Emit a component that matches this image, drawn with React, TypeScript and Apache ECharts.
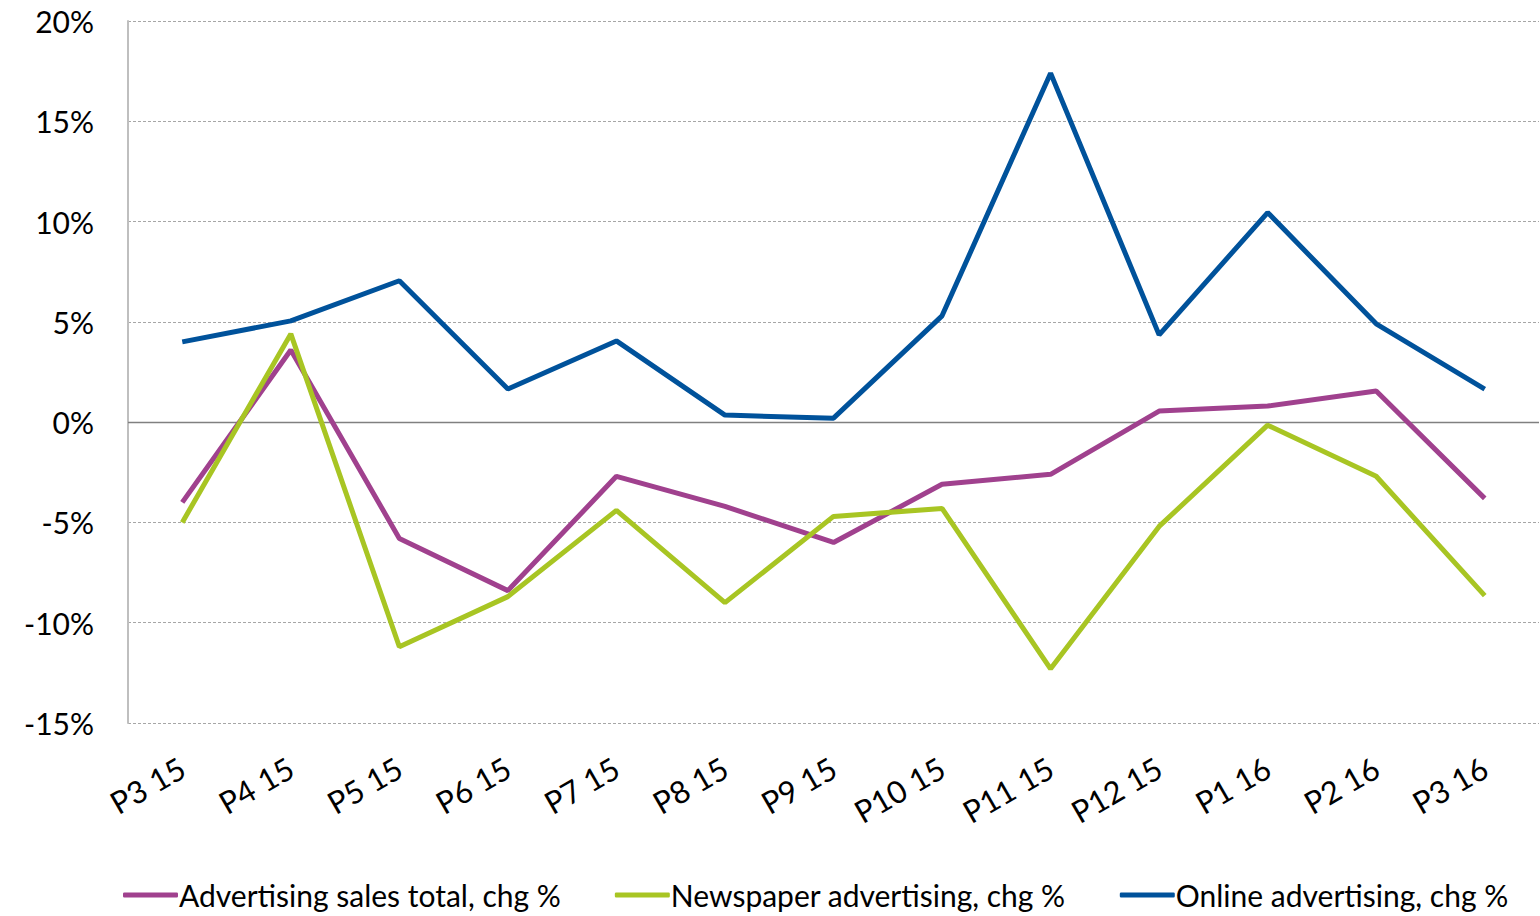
import React, { useEffect, useRef } from "react";
import * as echarts from "echarts";

const categories = ["P3 15", "P4 15", "P5 15", "P6 15", "P7 15", "P8 15", "P9 15", "P10 15", "P11 15", "P12 15", "P1 16", "P2 16", "P3 16"];
const totalSales = [-4.0, 3.6, -5.8, -8.4, -2.7, -4.2, -6.0, -3.1, -2.6, 0.55, 0.8, 1.55, -3.8];
const newspaper = [-5.0, 4.4, -11.2, -8.7, -4.4, -9.0, -4.7, -4.3, -12.3, -5.2, -0.15, -2.7, -8.65];
const online = [4.0, 5.05, 7.05, 1.65, 4.05, 0.35, 0.2, 5.3, 17.4, 4.35, 10.45, 4.9, 1.65];
const seriesNames = ["Advertising sales total, chg %", "Newspaper advertising, chg %", "Online advertising, chg %"];
const colors = ["#A0418E", "#A8C523", "#00529B"];

const FONT = "Lato, sans-serif";

export default function App() {
  const ref = useRef<HTMLDivElement>(null);
  useEffect(() => {
    const chart = echarts.init(ref.current!, null, { renderer: "svg" });
    const mk = (name: string, data: number[], color: string, withZero: boolean) => ({
      name,
      type: "line",
      data,
      symbol: "none",
      lineStyle: { color, width: 5 },
      itemStyle: { color },
      z: 3,
      ...(withZero
        ? {
            markLine: {
              silent: true,
              symbol: "none",
              label: { show: false },
              lineStyle: { color: "#808080", type: "solid", width: 1.3 },
              data: [{ yAxis: 0 }],
              z: 1,
            },
          }
        : {}),
    });
    chart.setOption({
      animation: false,
      color: colors,
      grid: { left: 128, right: 1, top: 21, height: 702 },
      xAxis: {
        type: "category",
        data: categories,
        boundaryGap: true,
        axisLine: { show: false, onZero: false },
        axisTick: { show: false },
        axisLabel: {
          rotate: 30,
          margin: 42,
          fontSize: 31,
          color: "#000",
          fontFamily: FONT,
          interval: 0,
        },
      },
      yAxis: {
        type: "value",
        min: -15,
        max: 20,
        interval: 5,
        axisLine: { show: true, lineStyle: { color: "#BFBFBF", width: 2 } },
        axisTick: { show: false },
        axisLabel: {
          formatter: (v: number) => `${v}%`,
          fontSize: 30,
          color: "#000",
          fontFamily: FONT,
          margin: 34,
        },
        splitLine: { lineStyle: { color: "#A6A6A6", type: [3, 2], width: 1 } },
      },
      legend: {
        bottom: 1,
        left: 118,
        icon: "roundRect",
        itemWidth: 55,
        itemHeight: 5,
        itemGap: 54,
        textStyle: { fontSize: 30, color: "#000", fontFamily: FONT, padding: [0, 0, 0, -4] },
        data: seriesNames,
      },
      series: [
        mk(seriesNames[0], totalSales, colors[0], true),
        mk(seriesNames[1], newspaper, colors[1], false),
        mk(seriesNames[2], online, colors[2], false),
      ],
    });
    return () => chart.dispose();
  }, []);
  return <div ref={ref} style={{ width: 1540, height: 916, position: "absolute", left: 0, top: 0 }} />;
}
